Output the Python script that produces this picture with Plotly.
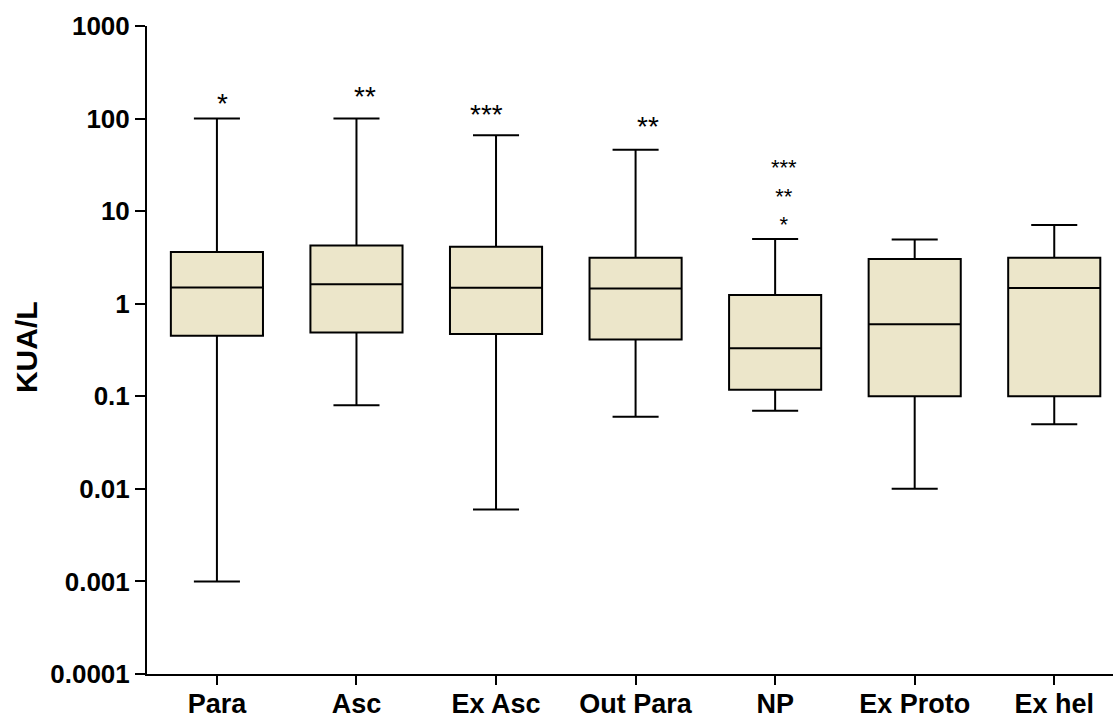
import numpy as np
import plotly.graph_objects as go

# Groups and five-number summaries (KUA/L)
groups = ["Para", "Asc", "Ex Asc", "Out Para", "NP", "Ex Proto", "Ex hel"]
whisker_low = [0.001, 0.08, 0.006, 0.06, 0.07, 0.01, 0.05]
q1 = [0.45, 0.49, 0.47, 0.41, 0.118, 0.10, 0.10]
median = [1.50, 1.62, 1.49, 1.46, 0.33, 0.60, 1.48]
q3 = [3.62, 4.26, 4.13, 3.14, 1.24, 3.04, 3.14]
whisker_high = [100, 100, 66, 46, 5.0, 4.95, 7.1]

# Significance marks above the groups: (group index, label, height in KUA/L)
sig_groups = [0, 1, 2, 3, 4]
sig_labels = ["*", "**", "***", "**", "***<br>**<br>*"]
sig_levels = [168, 200, 128, 95, 16.9]
sig_dx = [0.043, 0.062, -0.066, 0.09, 0.064]
sig_sizes = [28, 28, 28, 28, 22]

y_tickvals = [0.0001, 0.001, 0.01, 0.1, 1, 10, 100, 1000]
y_ticktext = ["0.0001", "0.001", "0.01", "0.1", "1", "10", "100", "1000"]

FONT = "Liberation Sans, Arial, Helvetica, sans-serif"
FILL = "#ECE6CA"

fig = go.Figure()
fig.add_trace(go.Box(
    x=list(range(len(groups))),
    q1=q1,
    median=median,
    q3=q3,
    lowerfence=whisker_low,
    upperfence=whisker_high,
    width=0.66,
    whiskerwidth=0.5,
    fillcolor=FILL,
    line=dict(color="black", width=2),
    boxpoints=False,
    showlegend=False,
    hoverinfo="skip",
))

for g, lab, lvl, dx, fs in zip(sig_groups, sig_labels, sig_levels, sig_dx, sig_sizes):
    fig.add_annotation(
        x=g + dx, y=np.log10(lvl), xref="x", yref="y",
        text=lab, showarrow=False, align="center",
        xanchor="center", yanchor="middle", yshift=-6,
        font=dict(family=FONT, size=fs, color="black"),
    )

fig.add_annotation(
    x=-0.1249, y=0.505, xref="paper", yref="paper",
    text="KUA/L", textangle=-90, showarrow=False,
    xanchor="center", yanchor="middle",
    font=dict(family=FONT, size=30, color="black", weight="bold"),
)

fig.update_layout(
    width=1113, height=720,
    margin=dict(l=146.7, r=0, t=25.7, b=46, pad=0),
    paper_bgcolor="white", plot_bgcolor="white",
    xaxis=dict(
        range=[-0.501, 6.421],
        tickvals=list(range(len(groups))),
        ticktext=groups,
        automargin=False,
        showgrid=False, zeroline=False,
        showline=True, linecolor="black", linewidth=2,
        ticks="outside", ticklen=9, tickwidth=1.5, tickcolor="black",
        ticklabelstandoff=-4,
        tickfont=dict(family=FONT, size=27, color="black", weight="bold"),
    ),
    yaxis=dict(
        type="log", range=[-4, 3],
        tickvals=y_tickvals, ticktext=y_ticktext,
        automargin=False,
        showgrid=False, zeroline=False,
        showline=True, linecolor="black", linewidth=2,
        ticks="outside", ticklen=10, tickwidth=1.5, tickcolor="black",
        tickfont=dict(family=FONT, size=26, color="black", weight="bold"),
    ),
)

fig.write_html("out.html")
